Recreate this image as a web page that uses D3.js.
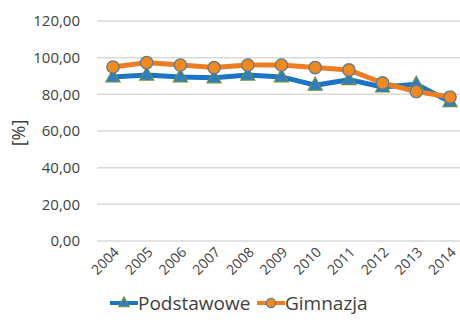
<html>
<head>
<style>
  body { margin: 0; background: #fff; }
  text { font-family: "Open Sans", "Noto Sans", sans-serif; fill: #404040; }
</style>
</head>
<body>
<svg id="chart" width="460" height="320"></svg>
<script src="https://d3js.org/d3.v7.min.js"></script>
<script>
const years = ["2004","2005","2006","2007","2008","2009","2010","2011","2012","2013","2014"]
const podstawowe = [89.5, 90.5, 89.5, 89.0, 90.5, 89.5, 85.0, 88.0, 84.0, 85.5, 76.0]
const gimnazja = [94.9, 97.3, 96.0, 94.6, 96.0, 96.0, 94.6, 93.3, 86.2, 81.5, 78.5]
const yTicks = [0, 20, 40, 60, 80, 100, 120]

const svg = d3.select("#chart")
const x = d3.scalePoint().domain(years).range([113, 450])
const y = d3.scaleLinear().domain([0, 120]).range([241, 21])

// gridlines
svg.append("g").selectAll("line").data(yTicks).join("line")
  .attr("x1", 97).attr("x2", 460)
  .attr("y1", d => y(d)).attr("y2", d => y(d))
  .attr("stroke", "#d9d9d9").attr("stroke-width", 1.5)

// y labels
svg.append("g").selectAll("text").data(yTicks).join("text")
  .attr("x", 80).attr("y", d => y(d)).attr("dy", "0.36em")
  .attr("text-anchor", "end").style("font-size", "15px")
  .text(d => d3.format(".2f")(d).replace(".", ","))

svg.append("text")
  .attr("transform", "translate(25,133) rotate(-90)")
  .attr("text-anchor", "middle").style("font-size", "18px")
  .text("[%]")

// x labels
svg.append("g").selectAll("text").data(years).join("text")
  .attr("transform", d => `translate(${x(d) + 7},253) rotate(-45)`)
  .attr("text-anchor", "end").style("font-size", "14px")
  .text(d => d)

const series = [
  { name: "Podstawowe", values: podstawowe, color: "#1b74c5", marker: "triangle" },
  { name: "Gimnazja", values: gimnazja, color: "#ee7d22", marker: "circle" }
]

const line = d3.line().x((d, i) => x(years[i])).y(d => y(d))

function drawMarker(g, type, cx, cy, k) {
  if (type === "triangle") {
    g.append("path")
      .attr("d", `M${cx},${cy - 8 * k}L${cx + 7 * k},${cy + 5 * k}L${cx - 7 * k},${cy + 5 * k}Z`)
      .attr("fill", "#2f7dc4").attr("stroke", "#6b8e3c").attr("stroke-width", 1.2)
  } else {
    g.append("circle").attr("cx", cx).attr("cy", cy).attr("r", 6.2 * k)
      .attr("fill", "#f08a1c").attr("stroke", "#5f7a96").attr("stroke-width", 1.3)
  }
}

series.forEach(s => {
  svg.append("path").datum(s.values)
    .attr("d", line).attr("fill", "none")
    .attr("stroke", s.color).attr("stroke-width", 5)
    .attr("stroke-linejoin", "round")
  const g = svg.append("g")
  s.values.forEach((v, i) => drawMarker(g, s.marker, x(years[i]), y(v), 1))
})

// legend
const legendX = [110, 257]
series.forEach((s, i) => {
  const lx = legendX[i], ly = 303
  svg.append("line").attr("x1", lx).attr("x2", lx + 28)
    .attr("y1", ly).attr("y2", ly)
    .attr("stroke", s.color).attr("stroke-width", 4)
  drawMarker(svg, s.marker, lx + 14, ly, 0.75)
  svg.append("text").attr("x", lx + 28).attr("y", ly).attr("dy", "0.36em")
    .style("font-size", "19px").text(s.name)
})
</script>
</body>
</html>
